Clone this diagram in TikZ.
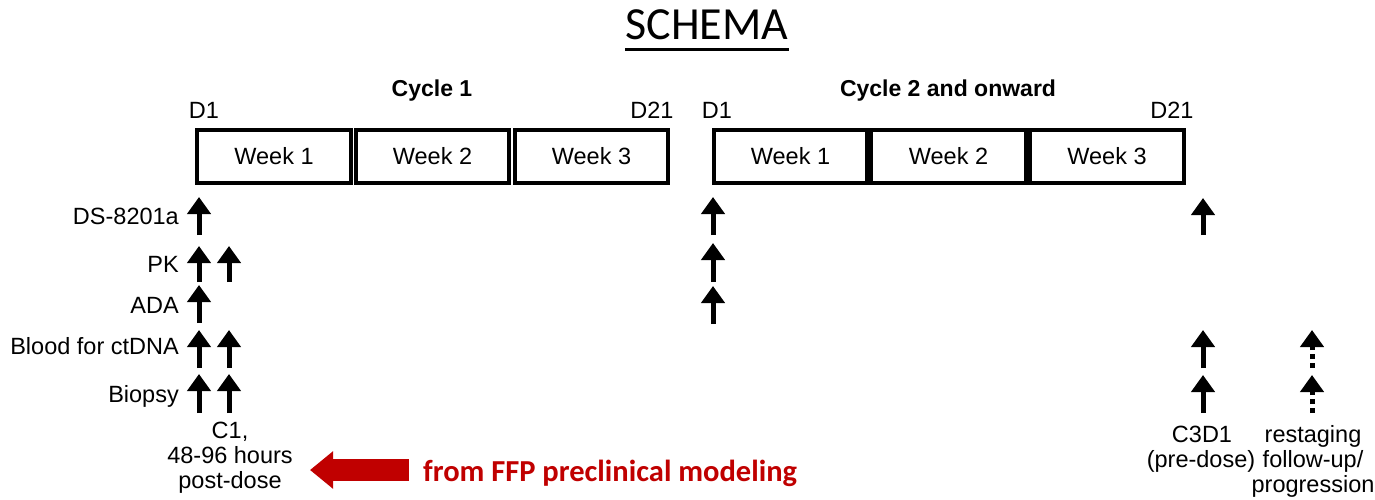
\documentclass[tikz,border=0pt]{standalone}
\usepackage{fontspec}
\setmainfont{Liberation Sans}
\newfontfamily\calib{Carlito}
\usetikzlibrary{arrows.meta}
\definecolor{ffpred}{HTML}{C00000}
\begin{document}
\begin{tikzpicture}[x=1pt,y=-1pt,
  lbl/.style={font=\fontsize{23.5}{26}\selectfont, inner sep=0pt},
  hdr/.style={font=\fontsize{23}{26}\selectfont\bfseries, inner sep=0pt, anchor=base},
  weekbox/.style={draw, line width=4pt, minimum width=154pt, minimum height=53pt, inner sep=0pt, font=\fontsize{23.5}{26}\selectfont},
  marker/.style={line width=5pt, -{Triangle[width=23pt,length=17pt]}},
  dmarker/.style={line width=5pt, dash pattern=on 5pt off 4pt, -{Triangle[width=23pt,length=17pt]}},
  ffp/.style={line width=22pt, draw=ffpred, -{Triangle[width=36pt,length=23pt]}}]
\useasboundingbox (0,0) rectangle (1375,500);
% title
\node[font=\calib\fontsize{46}{52}\selectfont, inner sep=0pt, anchor=base] (title) at (707,40) {SCHEMA};
\draw[line width=3pt] ([yshift=-10pt]title.base west) -- ([yshift=-10pt]title.base east);
% headers
\node[hdr] (cyc1) at (432,97) {Cycle 1};
\node[hdr] (cyc2) at (948,97) {Cycle 2 and onward};
\node[lbl, anchor=base] (d1a) at (204,118) {D1};
\node[lbl, anchor=base] (d21a) at (652,118) {D21};
\node[lbl, anchor=base] (d1b) at (717,118) {D1};
\node[lbl, anchor=base] (d21b) at (1172,118) {D21};
% week boxes
\node[weekbox] (c1w1) at (274,156.5) {Week 1};
\node[weekbox, minimum width=153pt] (c1w2) at (432.5,156.5) {Week 2};
\node[weekbox, minimum width=153pt] (c1w3) at (591.5,156.5) {Week 3};
\node[weekbox, minimum width=153pt] (c2w1) at (790.5,156.5) {Week 1};
\node[weekbox, minimum width=155pt] (c2w2) at (948.5,156.5) {Week 2};
\node[weekbox] (c2w3) at (1107,156.5) {Week 3};
% row labels
\node[lbl, anchor=base east] (lds) at (179,224) {DS-8201a};
\node[lbl, anchor=base east] (lpk) at (179,272) {PK};
\node[lbl, anchor=base east] (lada) at (179,313) {ADA};
\node[lbl, anchor=base east] (lblood) at (179,354) {Blood for ctDNA};
\node[lbl, anchor=base east] (lbiop) at (179,402) {Biopsy};
% cycle 1 markers
\draw[marker] (199,235) -- (199,197);
\draw[marker] (199,282) -- (199,246);
\draw[marker] (229,282) -- (229,246);
\draw[marker] (199,323) -- (199,285);
\draw[marker] (199,368) -- (199,330);
\draw[marker] (229,368) -- (229,330);
\draw[marker] (199,413) -- (199,374);
\draw[marker] (229,413) -- (229,374);
% cycle 2 markers
\draw[marker] (713,235) -- (713,197);
\draw[marker] (713,282) -- (713,243);
\draw[marker] (713,324) -- (713,286);
\draw[marker] (1203,235) -- (1203,198);
\draw[marker] (1203,368) -- (1203,330);
\draw[marker] (1203,413) -- (1203,375);
\draw[dmarker] (1312,368) -- (1312,330);
\draw[dmarker] (1312,413) -- (1312,375);
% bottom labels
\node[lbl, anchor=base] (c1a) at (230,438) {C1,};
\node[lbl, anchor=base] (c1b) at (230,463) {48-96 hours};
\node[lbl, anchor=base] (c1c) at (230,488) {post-dose};
\node[lbl, anchor=base] (c3a) at (1202,442) {C3D1};
\node[lbl, anchor=base] (c3b) at (1201,467) {(pre-dose)};
\node[lbl, anchor=base] (rsa) at (1313,442) {restaging};
\node[lbl, anchor=base] (rsb) at (1313,467) {follow-up/};
\node[lbl, anchor=base] (rsc) at (1313,492) {progression};
% red arrow and note
\node[font=\calib\bfseries\fontsize{30.5}{34}\selectfont, text=ffpred, inner sep=0pt, anchor=base west] (ffptext) at (423,481) {from FFP preclinical modeling};
\coordinate (ffpstart) at (409,470);
\coordinate (ffpend) at (310,470);
\draw[ffp] (ffpstart) -- (ffpend);
\end{tikzpicture}
\end{document}
